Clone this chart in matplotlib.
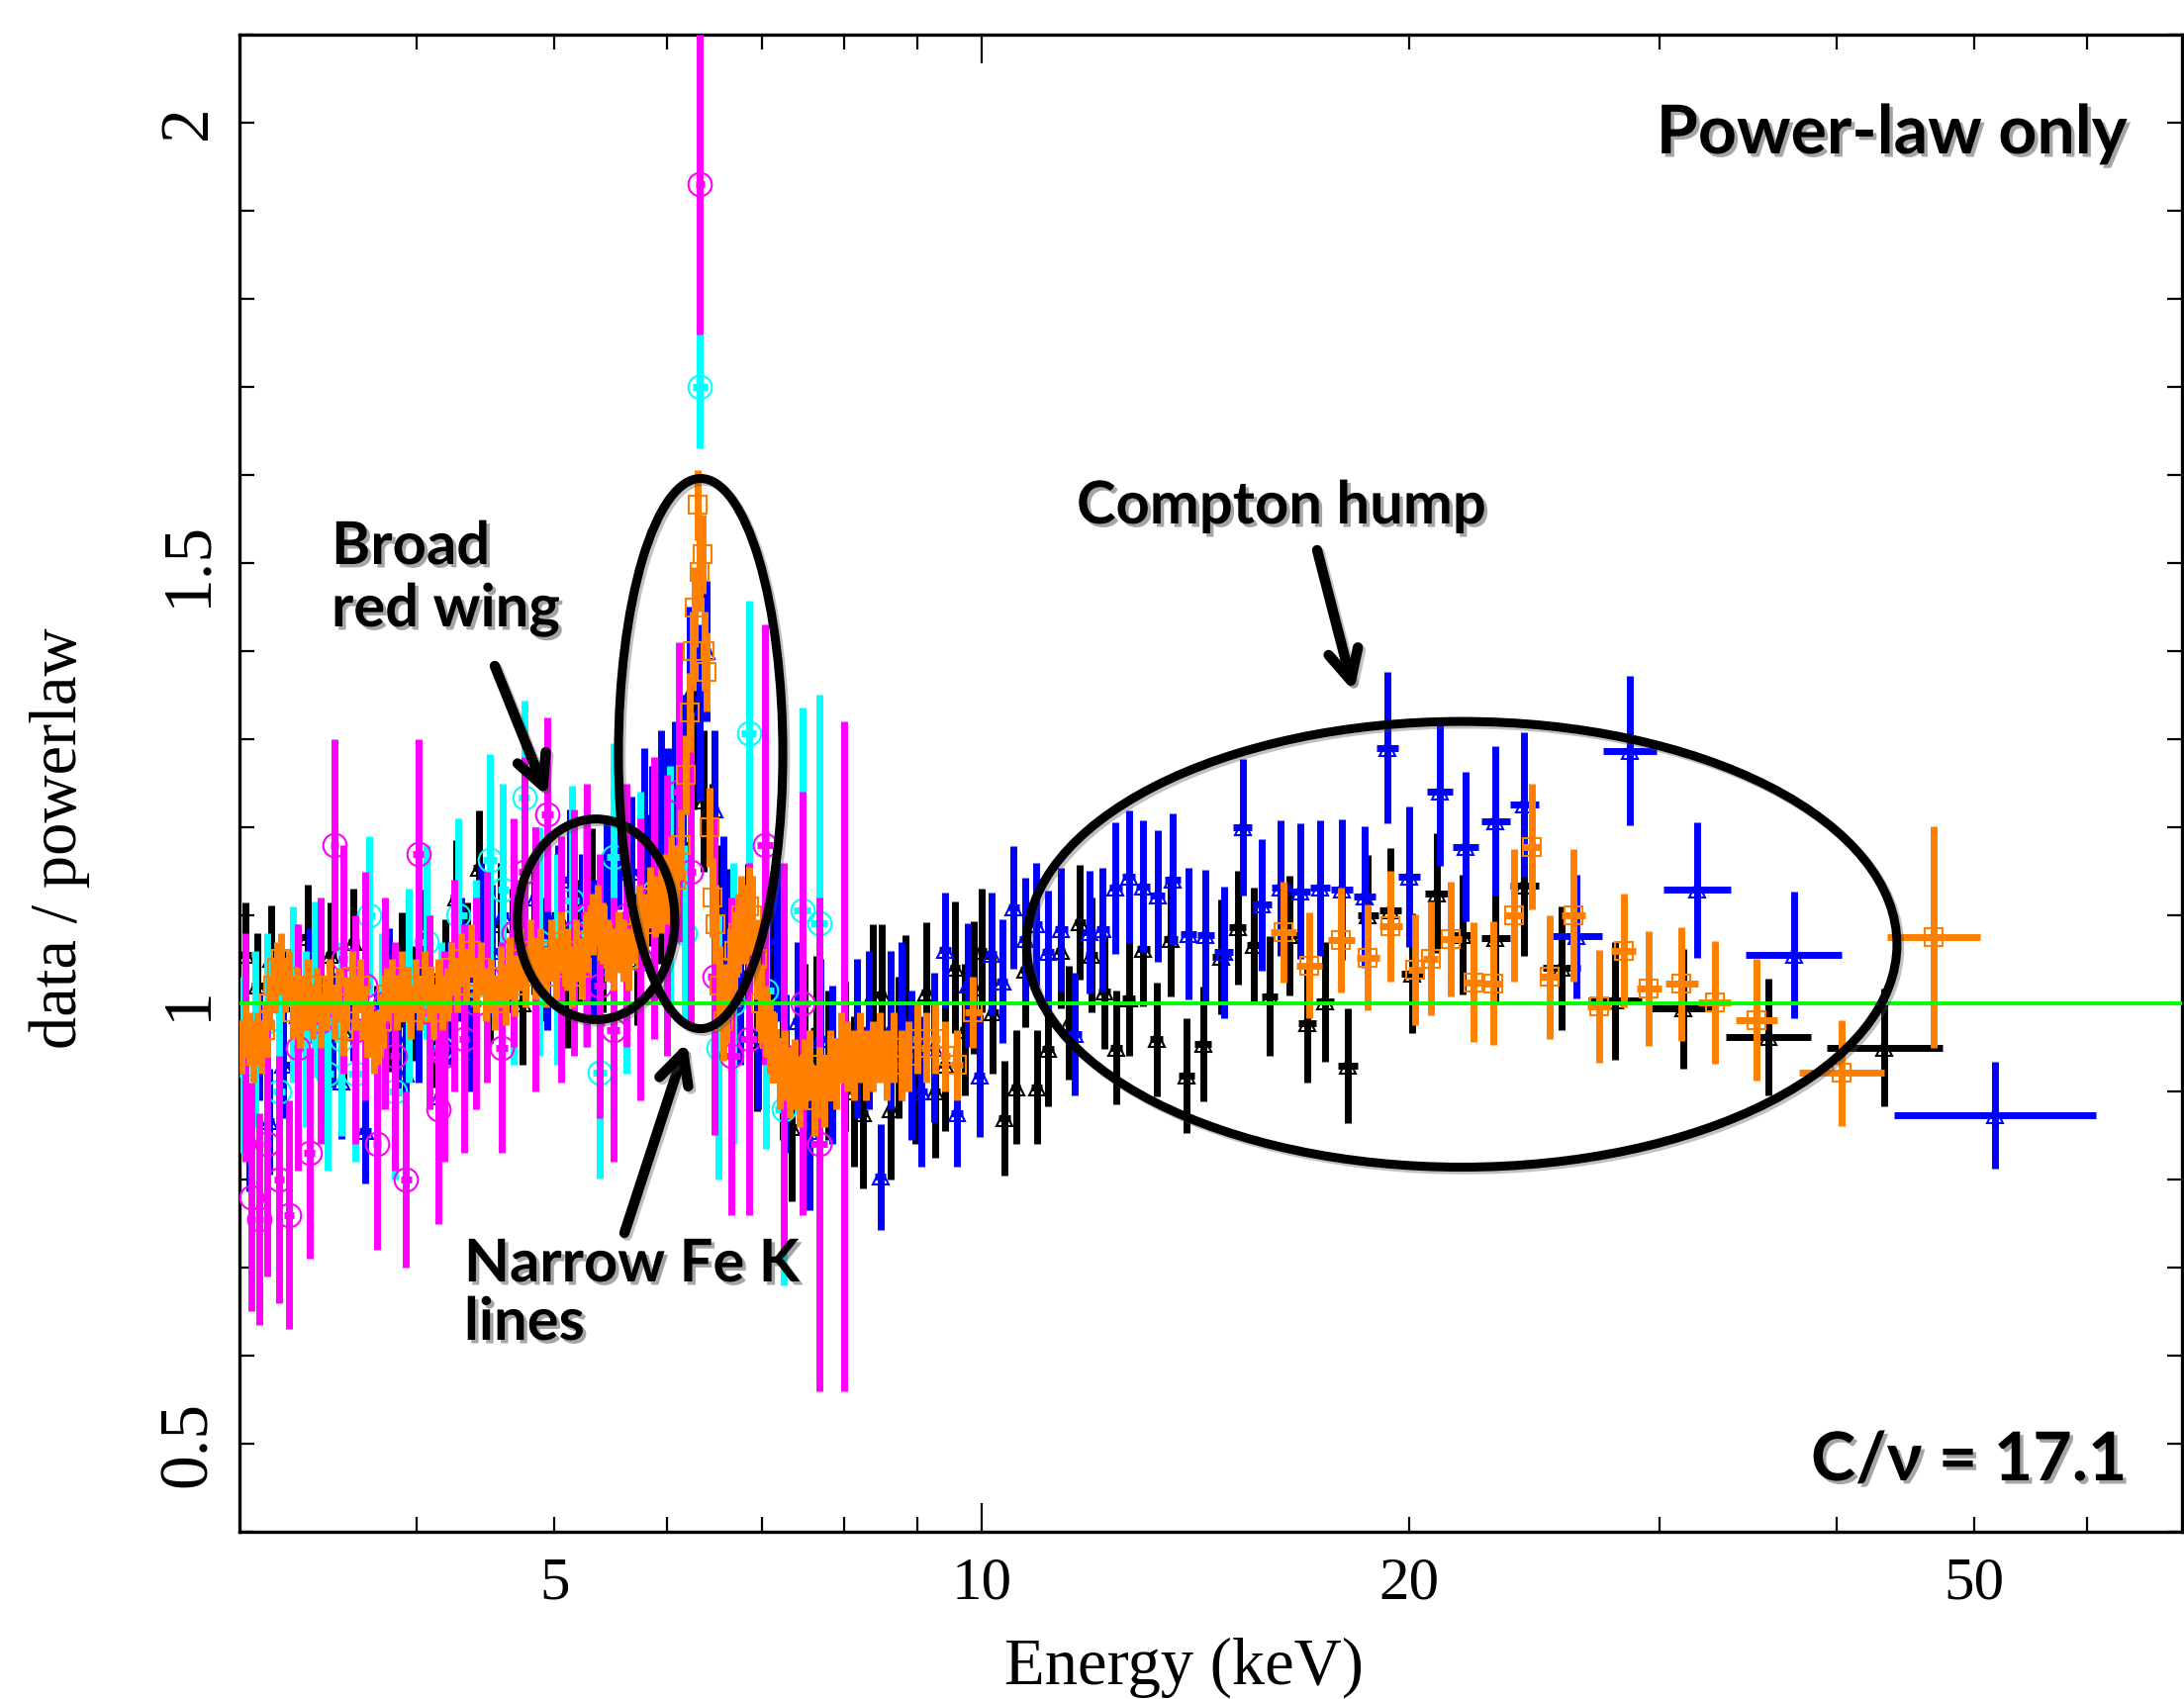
import numpy as np
import matplotlib
matplotlib.use("Agg")
import matplotlib.pyplot as plt
import matplotlib.patheffects as pe
from matplotlib.patches import Ellipse
from matplotlib.ticker import FixedLocator, FuncFormatter, MultipleLocator

plt.rcParams['font.family'] = ['Liberation Serif', 'DejaVu Serif']

# ---------------- data (ratio data / power-law) ----------------
# black triangles
E_blk = [3.03,3.09,3.16,3.22,3.28,3.35,3.42,3.48,3.55,3.61,3.68,3.75,3.83,3.90,3.97,4.04,4.11,4.19,4.26,4.34,
         4.42,4.50,4.58,4.67,4.75,4.84,4.93,5.02,5.11,5.21,5.31,5.41,5.51,5.62,5.72,5.83,5.94,6.05,6.16,6.27,
         6.37,6.46,6.55,6.64,6.74,6.84,6.94,
         7.04,7.13,7.24,7.35,7.50,7.64,7.80,8.01,8.13,8.25,8.38,8.50,8.62,8.73,8.84,8.98,9.13,9.27,9.42,9.57,
         9.72,9.86,
         10.0,10.18,10.37,10.57,10.72,10.93,11.13,11.36,11.52,11.72,11.94,12.20,12.43,12.69,12.99,13.27,13.57,
         13.93,14.31,14.73,15.14,15.55,15.95,16.45,16.95,17.45,18.10,18.70,19.40,20.10,20.90,21.80,23.00,24.10,
         25.60,27.90,31.20,35.80,43.20]
R_blk = [1.055,1.02,1.051,1.00,1.03,1.075,0.99,1.055,0.97,1.07,1.038,0.96,0.988,1.038,1.00,1.064,0.97,1.03,1.12,1.05,
         1.154,1.02,1.09,1.06,1.00,1.08,1.05,1.10,1.02,1.07,1.129,1.06,1.192,1.10,1.05,1.14,1.12,1.15,1.18,1.30,
         1.23,1.17,1.10,1.073,1.04,1.078,0.958,
         1.00,1.035,0.93,0.86,0.96,0.969,0.93,0.94,0.90,0.875,1.01,1.01,0.88,0.95,0.998,0.92,1.012,0.90,0.93,1.041,
         0.97,1.018,
         1.06,0.99,0.87,0.905,1.038,0.905,0.948,1.059,0.978,1.092,1.055,1.013,0.95,1.006,1.062,0.959,1.073,
         0.918,0.954,1.053,1.086,1.066,1.008,1.077,0.978,1.002,0.929,1.10,1.106,1.034,1.125,1.078,1.074,1.134,
         1.04,1.003,0.994,0.962,0.95]
ERR_blk = [0.06,0.06,0.06,0.06,0.06,0.06,0.06,0.06,0.06,0.06,0.06,0.06,0.065,0.065,0.065,0.065,0.065,0.065,0.065,0.065,
           0.065,0.065,0.07,0.07,0.07,0.07,0.07,0.07,0.07,0.07,0.07,0.07,0.075,0.075,0.075,0.075,0.075,0.075,0.08,0.08,
           0.08,0.08,0.08,0.08,0.08,0.08,0.08,
           0.08,0.08,0.085,0.085,0.085,0.085,0.085,0.085,0.085,0.085,0.08,0.08,0.08,0.08,0.08,0.08,0.08,0.075,0.075,0.075,
           0.075,0.075,
           0.07,0.07,0.065,0.065,0.065,0.065,0.065,0.065,0.065,0.065,0.065,0.065,0.065,0.065,0.065,0.065,0.065,
           0.065,0.065,0.065,0.065,0.065,0.068,0.068,0.068,0.068,0.065,0.068,0.07,0.068,0.068,0.068,0.075,0.08,
           0.07,0.067,0.068,0.066,0.067]

# blue triangles
E_blu = [3.05,3.10,3.15,3.22,3.30,3.36,3.43,3.49,3.54,3.61,3.68,3.75,3.82,3.88,3.93,4.01,4.08,4.15,4.22,4.30,
         4.37,4.44,4.52,4.60,4.68,4.76,4.85,4.94,5.03,5.13,5.23,5.33,5.44,5.55,5.66,5.78,5.86,5.94,6.01,6.08,
         6.16,6.23,6.33,6.40,6.48,6.57,6.66,6.76,6.86,6.96,
         7.06,7.17,7.28,7.42,7.56,7.70,7.85,8.00,8.16,8.32,8.48,8.62,8.77,8.92,9.07,9.25,9.42,9.60,9.78,9.96,
         10.15,10.33,10.53,10.72,10.92,11.13,11.37,11.63,11.90,12.16,12.42,12.69,12.99,13.29,13.63,13.98,14.37,
         14.80,15.26,15.75,16.24,16.76,17.31,17.93,18.60,19.30,20.00,21.00,21.90,23.00,24.10,26.20,28.60,31.90,
         37.30,51.70]
R_blu = [0.846,0.95,0.866,0.93,0.986,1.02,0.933,0.97,0.911,1.00,0.855,0.95,1.02,0.96,0.92,0.98,1.03,0.894,1.00,1.05,
         0.97,1.085,1.06,1.10,1.03,1.08,1.12,1.05,1.10,1.14,1.09,1.06,1.12,1.192,1.15,1.20,1.18,1.22,1.20,1.23,
         1.26,1.35,1.33,1.40,1.22,1.10,1.06,1.02,1.07,0.97,
         1.02,1.07,0.92,0.98,0.855,0.96,0.93,0.95,0.96,0.97,0.803,0.97,0.98,0.93,0.90,0.95,1.061,0.875,1.021,0.918,
         1.056,1.025,1.109,1.073,1.09,1.058,1.084,0.965,1.081,1.084,1.131,1.144,1.133,1.122,1.141,1.079,1.077,
         1.058,1.20,1.112,1.131,1.127,1.131,1.129,1.121,1.29,1.144,1.24,1.178,1.207,1.226,1.076,1.287,1.129,
         1.055,0.873]
ERR_blu = [0.06,0.06,0.06,0.06,0.065,0.065,0.065,0.065,0.065,0.065,0.06,0.065,0.065,0.065,0.065,0.07,0.07,0.07,0.07,0.07,
           0.07,0.075,0.075,0.075,0.075,0.075,0.08,0.08,0.08,0.08,0.08,0.08,0.085,0.085,0.085,0.09,0.09,0.09,0.09,0.09,
           0.09,0.10,0.10,0.08,0.09,0.09,0.09,0.09,0.09,0.09,
           0.09,0.09,0.09,0.09,0.09,0.09,0.09,0.09,0.09,0.09,0.06,0.09,0.09,0.085,0.085,0.085,0.065,0.06,0.07,0.07,
           0.07,0.07,0.07,0.07,0.07,0.07,0.07,0.07,0.07,0.07,0.075,0.075,0.075,0.075,0.075,0.075,0.075,
           0.075,0.077,0.075,0.077,0.077,0.077,0.08,0.08,0.086,0.08,0.084,0.085,0.085,0.082,0.07,0.085,0.077,
           0.072,0.061]

# cyan circles
E_cyan = [3.02,3.08,3.14,3.20,3.27,3.34,3.39,3.46,3.54,3.62,3.70,3.78,3.86,3.95,4.06,4.16,4.28,4.40,4.50,4.60,
          4.68,4.76,4.88,5.02,5.14,5.26,5.38,5.50,5.62,5.75,5.88,6.03,6.18,6.33,6.52,6.68,6.85,7.04,7.25,7.47,7.68]
R_cyan = [0.93,0.96,0.98,0.90,1.01,0.96,1.016,0.92,0.96,0.92,1.10,0.98,0.90,1.02,1.07,0.95,1.10,1.02,1.163,1.129,
          1.05,1.234,1.07,1.05,1.117,1.08,0.921,1.166,1.05,1.10,1.127,1.13,1.08,1.70,0.95,1.00,1.307,1.015,0.88,1.106,1.091]
ERR_cyan = [0.10,0.10,0.10,0.11,0.10,0.10,0.10,0.11,0.11,0.10,0.09,0.10,0.10,0.11,0.11,0.12,0.11,0.12,0.12,0.12,
            0.12,0.11,0.13,0.12,0.13,0.13,0.12,0.13,0.13,0.14,0.14,0.14,0.10,0.07,0.15,0.16,0.15,0.18,0.20,0.23,0.26]

# magenta circles
E_mag = [3.03,3.06,3.10,3.14,3.20,3.25,3.30,3.36,3.42,3.50,3.55,3.62,3.68,3.75,3.80,3.86,3.93,4.01,4.08,4.14,
         4.18,4.25,4.32,4.40,4.48,4.59,4.68,4.76,4.85,4.94,5.05,5.16,5.27,5.38,5.50,5.62,5.75,5.88,6.00,6.12,
         6.24,6.33,6.48,6.66,6.85,7.03,7.25,7.47,7.68,8.00]
R_mag = [0.95,0.78,0.755,0.84,0.80,0.76,0.95,0.83,0.98,1.18,1.05,0.97,1.02,0.84,1.00,0.94,0.80,1.17,0.99,0.88,
         0.94,1.02,0.96,1.00,1.03,0.95,1.08,1.15,1.05,1.215,1.05,1.08,1.10,1.02,0.97,1.10,1.05,1.12,1.10,1.24,
         1.15,1.93,1.03,0.94,0.96,1.18,0.94,1.00,0.84,0.94]
ERR_mag = [0.13,0.13,0.12,0.15,0.14,0.13,0.14,0.12,0.14,0.12,0.13,0.13,0.13,0.12,0.12,0.13,0.10,0.13,0.11,0.13,
           0.12,0.12,0.13,0.12,0.12,0.12,0.13,0.13,0.15,0.11,0.14,0.14,0.15,0.15,0.15,0.15,0.16,0.16,0.16,0.17,
           0.18,0.17,0.18,0.18,0.20,0.25,0.22,0.24,0.28,0.38]

# orange squares
E_org = [3.01,3.03,3.05,3.07,3.09,3.11,3.13,3.15,3.17,3.19,3.21,3.23,3.25,3.27,3.29,3.31,3.33,3.35,3.38,3.40,
         3.42,3.45,3.47,3.50,3.52,3.55,3.57,3.60,3.62,3.65,3.67,3.70,3.73,3.75,3.78,3.81,3.84,3.87,3.90,3.93,
         3.96,3.99,
         4.02,4.05,4.08,4.11,4.14,4.17,4.20,4.23,4.27,4.30,4.33,4.37,4.40,4.44,4.47,4.51,4.54,4.58,4.62,4.65,
         4.69,4.73,4.77,4.81,4.85,4.89,4.93,4.97,
         5.01,5.05,5.10,5.14,5.18,5.23,5.27,5.32,5.36,5.41,5.45,5.50,5.55,5.59,5.64,5.69,5.74,5.79,5.84,5.89,
         5.94,5.99,6.04,6.09,6.14,6.19,6.23,6.26,6.28,6.31,6.33,6.36,6.38,6.40,6.43,6.46,6.49,6.53,6.57,6.61,
         6.65,6.69,6.73,6.77,6.81,6.85,6.89,6.94,6.99,
         7.04,7.09,7.14,7.20,7.26,7.32,7.38,7.44,7.50,7.56,7.62,7.68,7.75,7.82,7.89,7.96,8.04,8.12,8.20,8.29,
         8.38,8.47,8.57,8.67,8.77,8.88,9.00,9.13,9.27,9.42,9.60,9.85,
         16.3,17.0,17.9,18.7,19.4,20.2,20.7,21.4,22.2,22.9,23.7,24.4,25.1,26.1,27.2,28.3,29.5,31.1,32.8,35.1,
         40.3,46.8]
R_org = [0.95,0.97,0.96,0.94,0.96,0.95,0.97,1.00,1.02,1.04,1.05,1.02,1.03,0.99,1.01,0.98,1.00,1.02,0.99,1.01,
         0.98,1.00,1.02,0.99,1.01,0.97,1.00,1.03,1.00,1.02,0.99,0.97,0.95,0.96,0.98,1.01,1.02,1.00,1.03,1.01,
         0.99,1.02,
         1.00,1.03,1.01,0.99,1.02,1.00,1.01,1.04,1.02,1.05,1.03,1.06,1.02,1.04,1.01,1.02,1.00,1.03,1.01,1.04,
         1.02,1.05,1.03,1.06,1.04,1.05,1.03,1.06,
         1.04,1.07,1.05,1.03,1.06,1.04,1.07,1.09,1.10,1.08,1.06,1.05,1.07,1.06,1.05,1.08,1.10,1.09,1.12,1.11,
         1.12,1.13,1.15,1.14,1.18,1.26,1.33,1.40,1.45,1.566,1.49,1.51,1.40,1.376,1.20,1.12,1.09,1.02,0.98,1.00,
         1.04,1.06,1.08,1.10,1.09,1.11,1.10,1.05,1.00,
         0.98,0.96,0.95,0.92,0.93,0.91,0.92,0.90,0.92,0.93,0.89,0.91,0.90,0.93,0.92,0.95,0.94,0.93,0.95,0.93,
         0.94,0.95,0.93,0.95,0.93,0.94,0.96,0.95,0.96,0.94,0.93,0.99,
         1.081,1.043,1.072,1.052,1.088,1.038,1.051,1.073,1.024,1.023,1.10,1.178,1.03,1.10,0.997,1.06,1.017,1.022,1.001,0.981,
         0.921,1.075]
ERR_org = [0.03,0.03,0.03,0.03,0.03,0.03,0.03,0.03,0.03,0.03,0.03,0.03,0.03,0.03,0.03,0.03,0.03,0.03,0.03,0.03,
           0.03,0.03,0.03,0.03,0.03,0.03,0.03,0.03,0.03,0.03,0.03,0.03,0.03,0.03,0.03,0.03,0.03,0.03,0.03,0.03,
           0.03,0.03,
           0.03,0.03,0.03,0.03,0.03,0.03,0.03,0.03,0.03,0.03,0.03,0.03,0.03,0.03,0.03,0.03,0.03,0.035,0.035,0.035,
           0.035,0.035,0.035,0.035,0.035,0.035,0.035,0.035,
           0.035,0.035,0.035,0.035,0.035,0.035,0.035,0.035,0.035,0.035,0.035,0.035,0.035,0.035,0.035,0.035,0.035,0.035,0.035,0.035,
           0.04,0.04,0.04,0.04,0.04,0.045,0.045,0.045,0.045,0.04,0.045,0.045,0.045,0.045,0.045,0.045,0.045,0.045,0.045,0.045,
           0.045,0.045,0.045,0.045,0.045,0.045,0.045,0.045,0.045,
           0.04,0.04,0.04,0.04,0.04,0.04,0.04,0.04,0.04,0.04,0.04,0.04,0.04,0.04,0.04,0.04,0.04,0.04,0.04,0.04,
           0.04,0.04,0.04,0.04,0.04,0.04,0.04,0.04,0.04,0.04,0.04,0.04,
           0.057,0.06,0.06,0.06,0.063,0.063,0.065,0.065,0.068,0.07,0.075,0.071,0.07,0.075,0.064,0.065,0.065,0.065,0.07,0.069,
           0.06,0.126]

# ---------------- helpers ----------------
def half_widths(E):
    """energy bin half widths (half the log spacing to the nearest neighbour)."""
    E = np.asarray(E, float)
    lg = np.log10(E)
    d = np.diff(lg)
    left = np.r_[d[0], d]
    right = np.r_[d, d[-1]]
    h = np.minimum(left, right) / 2
    return np.vstack([E - 10**(lg - h), 10**(lg + h) - E])

W, H = 2207, 1717
fig = plt.figure(figsize=(W / 100, H / 100), dpi=100)
ax = fig.add_axes([242 / W, 1 - 1548 / H, (2205 - 242) / W, (1548 - 35) / H])
ax.set_xscale('log')
ax.set_xlim(3, 70)
ax.set_ylim(0.4, 2.1)

series = [
    (E_blk, R_blk, ERR_blk, '#000000', '^', 12, 2),
    (E_blu, R_blu, ERR_blu, '#0000FF', '^', 12, 3),
    (E_cyan, R_cyan, ERR_cyan, '#00FFFF', 'o', 17, 4),
    (E_mag, R_mag, ERR_mag, '#FF00FF', 'o', 17, 5),
    (E_org, R_org, ERR_org, '#FF8000', 's', 13, 6),
]
for E, R, ER, col, mk, ms, z in series:
    assert len(E) == len(R) == len(ER), (col, len(E), len(R), len(ER))
    ax.errorbar(E, R, yerr=ER, xerr=half_widths(E), fmt=mk, color=col, mfc='none', mec=col,
                ms=ms, mew=1.5, elinewidth=5.0, capsize=0, ls='none', zorder=z)

ax.axhline(1.0, color='#00FF00', lw=2.8, zorder=7)

# ---------------- axes styling ----------------
for s in ax.spines.values():
    s.set_linewidth(2.4)
ax.xaxis.set_major_locator(FixedLocator([10]))
ax.xaxis.set_minor_locator(FixedLocator([4, 5, 6, 7, 8, 9, 20, 30, 40, 50, 60]))
ax.xaxis.set_major_formatter(FuncFormatter(lambda v, p: '10'))
ax.xaxis.set_minor_formatter(FuncFormatter(lambda v, p: ('%d' % v) if v in (5, 20, 50) else ''))
ax.yaxis.set_major_locator(FixedLocator([0.5, 1, 1.5, 2]))
ax.yaxis.set_minor_locator(MultipleLocator(0.1))
ax.yaxis.set_major_formatter(FuncFormatter(lambda v, p: {0.5: '0.5', 1: '1', 1.5: '1.5', 2: '2'}[round(v, 1)]))

ax.tick_params(which='both', direction='in', top=True, right=True, width=1.6)
ax.tick_params(axis='x', which='major', length=21, pad=18, labelsize=44)
ax.tick_params(axis='x', which='minor', length=11, pad=18, labelsize=44)
ax.tick_params(axis='y', which='both', length=11, pad=14, labelsize=50, labelrotation=90)
for lbl in ax.get_yticklabels():
    lbl.set_va('center')

fig.text(1196 / W, 0.009, 'Energy (keV)', ha='center', va='baseline', fontsize=48)
fig.text(60 / W, 1 - 847 / H, 'data / powerlaw', ha='center', va='center', rotation=90, fontsize=48)

# ---------------- annotations ----------------
shadow_line = [pe.SimpleLineShadow(offset=(2, -2), shadow_color='0.3', alpha=0.35), pe.Normal()]
for cx, cy, w, h in [(0.1836, 0.4091, 0.081, 0.134),
                     (0.2374, 0.5198, 0.0846, 0.3675),
                     (0.6292, 0.3924, 0.4481, 0.2977)]:
    e = Ellipse((cx, cy), w, h, transform=ax.transAxes, fill=False, ec='black', lw=6.5,
                zorder=8, path_effects=shadow_line, clip_on=False)
    ax.add_patch(e)

for tail, head in [((500, 673), (553, 805)),
                   ((631, 1246), (694, 1053)),
                   ((1331, 556), (1368, 699))]:
    ax.annotate('', xy=(head[0], H - head[1]), xycoords='figure pixels',
                xytext=(tail[0], H - tail[1]), textcoords='figure pixels',
                arrowprops=dict(arrowstyle='->,head_length=2.2,head_width=1.1', lw=7.5, color='black',
                                shrinkA=0, shrinkB=0, mutation_scale=10,
                                path_effects=shadow_line),
                zorder=9)

shadow_txt = [pe.withSimplePatchShadow(offset=(2.5, -2.5), shadow_rgbFace=(0.3, 0.3, 0.3), alpha=0.5)]
sans = ['Lato', 'DejaVu Sans']
def label(x, y, s, size, ha='left'):
    fig.text(x / W, 1 - y / H, s, ha=ha, va='baseline', fontsize=size, family=sans,
             weight='bold', path_effects=shadow_txt, zorder=10)

label(2149, 155, 'Power-law only', 49, ha='right')
label(2149, 1496, 'C/ν = 17.1', 49, ha='right')
label(1088, 529, 'Compton hump', 43)
label(335, 570, 'Broad', 43)
label(335, 633, 'red wing', 43)
label(469, 1295, 'Narrow Fe K', 43)
label(469, 1354, 'lines', 43)

fig.savefig('out.png', dpi=100)
